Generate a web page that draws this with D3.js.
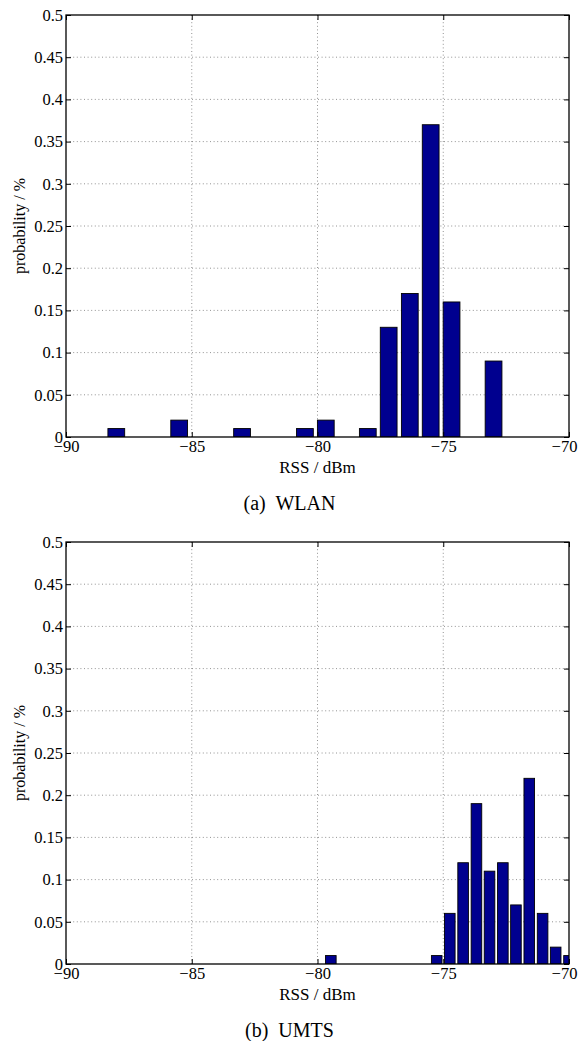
<!DOCTYPE html>
<html>
<head>
<meta charset="utf-8">
<script src="https://cdn.jsdelivr.net/npm/d3@7"></script>
<style>
  body { margin: 0; background: #fff; }
  svg { display: block; }
</style>
</head>
<body>
<svg width="579" height="1041" font-family="Liberation Serif"></svg>
<script>
// bin centres (dBm) and probabilities
const wlanRss = [-88, -85.5, -83, -80.5, -79.67, -78, -77.17, -76.33, -75.5, -74.67, -73];
const wlanProb = [0.01, 0.02, 0.01, 0.01, 0.02, 0.01, 0.13, 0.17, 0.37, 0.16, 0.09];
const wlanBin = 0.8333;

const umtsRss = [-79.47, -75.26, -74.74, -74.21, -73.68, -73.16, -72.63, -72.11, -71.58, -71.05, -70.53, -70.0];
const umtsProb = [0.01, 0.01, 0.06, 0.12, 0.19, 0.11, 0.12, 0.07, 0.22, 0.06, 0.02, 0.01];
const umtsBin = 0.5263;

const xTicks = [-90, -85, -80, -75, -70];
const yTicks = [0, 0.05, 0.1, 0.15, 0.2, 0.25, 0.3, 0.35, 0.4, 0.45, 0.5];

const svg = d3.select("svg");
const font = "Liberation Serif";
const left = 66, right = 569, plotH = 422;
const barColor = "#00008f";

function fmtX(d) { return d < 0 ? "\u2212" + Math.abs(d) : String(d); }
function fmtY(d) { return d === 0 ? "0" : String(+d.toFixed(2)); }

function drawPanel(rss, prob, bin, top, caption, id) {
  const bottom = top + plotH;
  const x = d3.scaleLinear().domain([-90, -70]).range([left, right]);
  const y = d3.scaleLinear().domain([0, 0.5]).range([bottom, top]);
  const g = svg.append("g");

  g.append("clipPath").attr("id", id)
    .append("rect")
    .attr("x", left).attr("y", top)
    .attr("width", right - left).attr("height", plotH);

  // grid
  g.append("g").selectAll("line")
    .data(yTicks.slice(1, -1))
    .enter().append("line")
    .attr("x1", left).attr("x2", right)
    .attr("y1", (d) => y(d)).attr("y2", (d) => y(d))
    .attr("stroke", "#777").attr("stroke-width", 0.8)
    .attr("stroke-dasharray", "1,2.6");
  g.append("g").selectAll("line")
    .data(xTicks.slice(1, -1))
    .enter().append("line")
    .attr("x1", (d) => x(d)).attr("x2", (d) => x(d))
    .attr("y1", top).attr("y2", bottom)
    .attr("stroke", "#777").attr("stroke-width", 0.8)
    .attr("stroke-dasharray", "1,2.6");

  // bars
  const w = x(-90 + bin * 0.8) - x(-90);
  g.append("g").attr("clip-path", `url(#${id})`)
    .selectAll("rect")
    .data(rss)
    .enter().append("rect")
    .attr("x", (d) => x(d) - w / 2)
    .attr("y", (d, i) => y(prob[i]))
    .attr("width", w)
    .attr("height", (d, i) => bottom - y(prob[i]))
    .attr("fill", barColor)
    .attr("stroke", "#000").attr("stroke-width", 0.9);

  // axes, ticks pointing inward
  const axisStyle = (sel) => {
    sel.attr("font-family", font).attr("font-size", 16.5);
    sel.select(".domain").remove();
    sel.selectAll("line").attr("stroke", "#000");
    sel.selectAll("text").attr("fill", "#000");
  };
  g.append("g").attr("transform", `translate(${left},0)`)
    .call(d3.axisLeft(y).tickValues(yTicks).tickFormat(fmtY).tickSizeInner(-5).tickPadding(3))
    .call(axisStyle);
  g.append("g").attr("transform", `translate(${right},0)`)
    .call(d3.axisRight(y).tickValues(yTicks).tickFormat("").tickSizeInner(-5))
    .call(axisStyle);
  g.append("g").attr("transform", `translate(0,${bottom})`)
    .call(d3.axisBottom(x).tickValues(xTicks).tickFormat(fmtX).tickSizeInner(-5).tickPadding(3))
    .call(axisStyle)
    .selectAll("text")
    .attr("dx", (d) => (d === -70 ? -5 : 0));
  g.append("g").attr("transform", `translate(0,${top})`)
    .call(d3.axisTop(x).tickValues(xTicks).tickFormat("").tickSizeInner(-5))
    .call(axisStyle);

  g.append("rect")
    .attr("x", left).attr("y", top)
    .attr("width", right - left).attr("height", plotH)
    .attr("fill", "none").attr("stroke", "#000").attr("stroke-width", 1.3);

  g.append("text")
    .attr("x", (left + right) / 2).attr("y", bottom + 36)
    .attr("text-anchor", "middle")
    .attr("font-family", font).attr("font-size", 17)
    .text("RSS / dBm");

  g.append("text")
    .attr("transform", `translate(25,${(top + bottom) / 2}) rotate(-90)`)
    .attr("text-anchor", "middle")
    .attr("font-family", font).attr("font-size", 16)
    .text("probability / %");

  g.append("text")
    .attr("x", 289.5).attr("y", bottom + 73)
    .attr("text-anchor", "middle")
    .attr("font-family", font).attr("font-size", 20)
    .attr("xml:space", "preserve")
    .text(caption);
}

drawPanel(wlanRss, wlanProb, wlanBin, 15, "(a)  WLAN", "clipA");
drawPanel(umtsRss, umtsProb, umtsBin, 542, "(b)  UMTS", "clipB");
</script>
</body>
</html>
